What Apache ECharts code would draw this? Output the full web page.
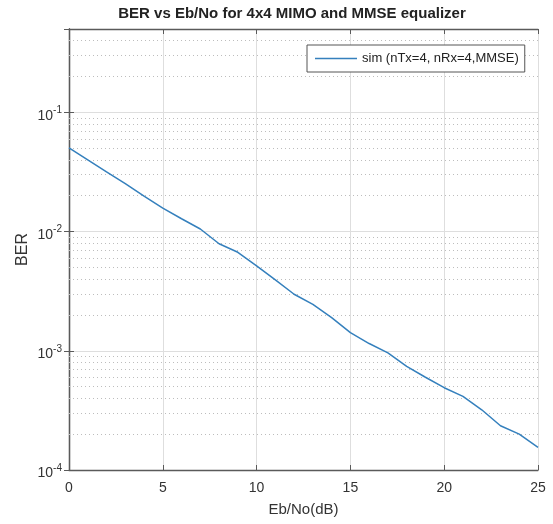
<!DOCTYPE html>
<html>
<head>
<meta charset="utf-8">
<script src="https://cdn.jsdelivr.net/npm/echarts@6/dist/echarts.min.js"></script>
<style>
  html, body { margin: 0; padding: 0; background: #fff; }
  #chart { width: 553px; height: 524px; }
</style>
</head>
<body>
<div id="chart"></div>
<script>
// Eb/No in dB
const ebno = [0, 1, 2, 3, 4, 5, 6, 7, 8, 9, 10, 11, 12, 13, 14, 15, 16, 17, 18, 19, 20, 21, 22, 23, 24, 25];
// simulated BER
const ber = [0.0504, 0.040, 0.0316, 0.0252, 0.0198, 0.0157, 0.0128, 0.0105, 0.0079, 0.0067, 0.00516,
  0.00394, 0.00298, 0.00245, 0.0019, 0.00142, 0.00115, 0.00096, 0.00074, 0.0006, 0.00049,
  0.000415, 0.00032, 0.000235, 0.0002, 0.000155];
const xTicks = [0, 5, 10, 15, 20, 25];
const seriesName = 'sim (nTx=4, nRx=4,MMSE)';

const font = 'Liberation Sans, Arial, Helvetica, sans-serif';
const axisColor = '#5a5a5a';

// dotted minor grid lines for the log axis (2..9 x 10^k)
const minorLines = [];
for (let k = -4; k <= -1; k++) {
  for (let m = 2; m <= 9; m++) {
    const v = m * Math.pow(10, k);
    if (v < 0.5) minorLines.push({ yAxis: v });
  }
}

function isDecade(v) {
  const l = Math.log10(v);
  return Math.abs(l - Math.round(l)) < 1e-6;
}

const chart = echarts.init(document.getElementById('chart'));
chart.setOption({
  backgroundColor: '#fff',
  animation: false,
  title: {
    text: 'BER vs Eb/No for 4x4 MIMO and MMSE equalizer',
    left: 287,
    textAlign: 'center',
    top: 1,
    textStyle: { fontFamily: font, fontSize: 15, fontWeight: 'bold', color: '#222' }
  },
  legend: {
    data: [{ name: seriesName, icon: 'path://M0,0L40,0L40,1.6L0,1.6Z' }],
    left: 307,
    top: 45,
    orient: 'vertical',
    itemWidth: 42,
    itemHeight: 10,
    padding: [7, 6, 7, 8],
    itemGap: 0,
    backgroundColor: '#fff',
    borderColor: '#555',
    borderWidth: 1,
    borderRadius: 0,
    textStyle: { fontFamily: font, fontSize: 13, color: '#222' }
  },
  grid: { left: 69, right: 15, top: 29, bottom: 54, containLabel: false },
  xAxis: [{
    type: 'value',
    min: 0,
    max: 25,
    interval: 5,
    name: 'Eb/No(dB)',
    nameLocation: 'middle',
    nameGap: 32,
    nameMoveOverlap: false,
    nameTextStyle: { fontFamily: font, fontSize: 15, color: '#333' },
    axisLine: { show: true, lineStyle: { color: axisColor, width: 1.3 } },
    axisTick: { show: true, inside: true, length: 5, lineStyle: { color: axisColor } },
    axisLabel: {
      fontFamily: font, fontSize: 14, color: '#333', margin: 11,
      formatter: v => xTicks.includes(v) ? String(v) : ''
    },
    splitLine: { show: true, lineStyle: { color: '#dedede', width: 1 } }
  }, {
    type: 'value',
    position: 'top',
    min: 0,
    max: 25,
    interval: 5,
    axisLine: { show: true, lineStyle: { color: axisColor, width: 1.3 } },
    axisTick: { show: true, inside: true, length: 5, lineStyle: { color: axisColor } },
    axisLabel: { show: false },
    splitLine: { show: false }
  }],
  yAxis: [{
    type: 'log',
    logBase: 10,
    min: 1e-4,
    max: 0.5,
    name: 'BER',
    nameLocation: 'middle',
    nameGap: 38,
    nameMoveOverlap: false,
    nameTextStyle: { fontFamily: font, fontSize: 16, color: '#333' },
    axisLine: { show: true, lineStyle: { color: axisColor, width: 1.3 } },
    axisTick: { show: true, inside: true, length: 5, lineStyle: { color: axisColor } },
    axisLabel: {
      margin: 7,
      padding: [7, 0, 0, 0],
      formatter: v => {
        if (!isDecade(v)) return '';
        return '{b|10}{s|' + Math.round(Math.log10(v)) + '}';
      },
      rich: {
        b: { fontFamily: font, fontSize: 14, color: '#333' },
        s: { fontFamily: font, fontSize: 10, color: '#333', padding: [0, 0, 11, 0] }
      }
    },
    splitLine: { show: true, lineStyle: { color: '#dedede', width: 1 } }
  }, {
    type: 'log',
    logBase: 10,
    position: 'right',
    min: 1e-4,
    max: 0.5,
    axisLine: { show: true, lineStyle: { color: axisColor, width: 1.3 } },
    axisTick: { show: true, inside: true, length: 5, lineStyle: { color: axisColor } },
    axisLabel: { show: false },
    splitLine: { show: false }
  }],
  series: [{
    name: seriesName,
    type: 'line',
    data: ebno.map((x, i) => [x, ber[i]]),
    symbol: 'none',
    smooth: false,
    lineStyle: { color: '#3580bd', width: 1.5 },
    itemStyle: { color: '#3580bd' },
    z: 5,
    markLine: {
      silent: true,
      symbol: 'none',
      precision: 10,
      label: { show: false },
      lineStyle: { color: '#bdbdbd', type: [1, 3], width: 1 },
      data: minorLines,
      z: 1
    }
  }]
});
</script>
</body>
</html>
